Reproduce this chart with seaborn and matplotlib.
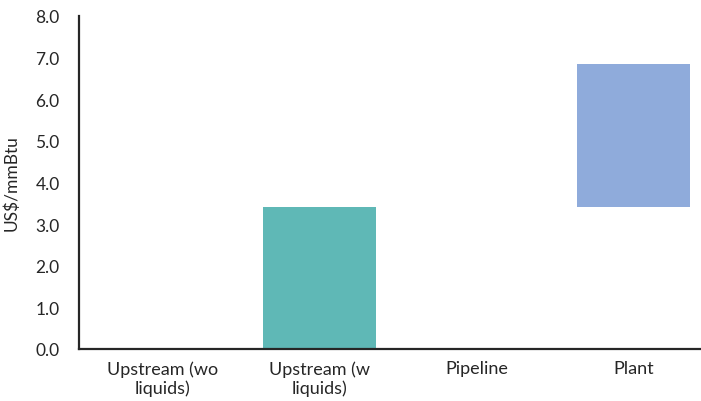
import matplotlib
matplotlib.use("Agg")
import matplotlib.pyplot as plt
import seaborn as sns
import pandas as pd

categories = ["Upstream (wo\nliquids)", "Upstream (w\nliquids)", "Pipeline", "Plant"]
bases = [0.0, 0.0, 3.42, 3.42]
increments = [0.0, 3.42, 0.0, 3.43]
bar_colors = ["#5FB8B6", "#5FB8B6", "#8FABDB", "#8FABDB"]
y_ticks = [0, 1, 2, 3, 4, 5, 6, 7, 8]

sns.set_theme(style="white")
plt.rcParams["font.family"] = ["Lato", "DejaVu Sans"]

df = pd.DataFrame({"stage": categories, "cost": increments})

fig = plt.figure(figsize=(7.01, 4.02), dpi=100)
ax = fig.add_axes([0.1127, 0.1294, 0.8873, 0.8284])

# floating waterfall bars: each step starts where the previous total ended
sns.barplot(data=df, x="stage", y="cost", color=bar_colors[0], width=0.72,
            bottom=bases, linewidth=0, saturation=1, ax=ax)
for patch, c in zip(ax.patches, bar_colors):
    patch.set_facecolor(c)

ax.set_ylim(0, 8)
ax.set_yticks(y_ticks)
ax.set_yticklabels([f"{v:.1f}" for v in y_ticks])
ax.set_xlim(-0.53, 3.43)
ax.set_xlabel("")
ax.set_ylabel("US$/mmBtu", fontsize=12.5, color="#262626", labelpad=11)
ax.tick_params(axis="y", length=0, labelsize=12.5, colors="#262626", pad=14)
ax.tick_params(axis="x", length=0, labelsize=13, colors="#262626", pad=8)

for side in ["top", "right"]:
    ax.spines[side].set_visible(False)
for side in ["left", "bottom"]:
    ax.spines[side].set_color("#262626")
    ax.spines[side].set_linewidth(1.6)

fig.savefig("out.png", dpi=100)
